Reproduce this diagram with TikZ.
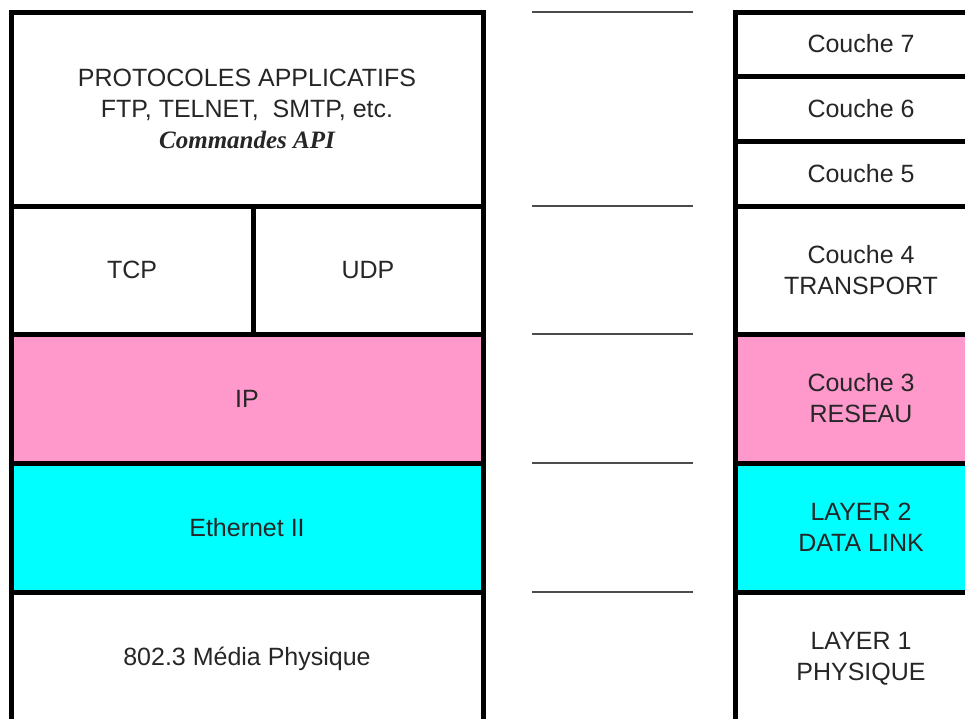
\documentclass[tikz,border=0pt]{standalone}
\usepackage{fontspec}
\setmainfont{Liberation Sans}
\newfontfamily\serifbi{Liberation Serif}
\usetikzlibrary{positioning}
\definecolor{ippink}{RGB}{255,153,204}
\definecolor{ethcyan}{RGB}{0,255,255}

\begin{document}
\begin{tikzpicture}[x=1pt,y=-1pt,
    layer/.style={draw, line width=5pt, inner sep=0pt, outer sep=0pt, align=center,
        text=black!85, font=\fontsize{25}{31}\selectfont},
    sep/.style={draw=black!70, line width=2pt}]
    \useasboundingbox (0,0) rectangle (965,718);
    \clip (0,0) rectangle (965,718);

    % TCP/IP stack
    \node[layer, minimum width=472, minimum height=194] (app) at (247,109)
        {PROTOCOLES APPLICATIFS\\FTP, TELNET,\ \ SMTP, etc.\\{\serifbi\bfseries\itshape Commandes API}};
    \node[layer, anchor=north west, minimum width=242, minimum height=128] (tcp) at (app.south west) {TCP};
    \node[layer, anchor=north west, minimum width=230, minimum height=128] (udp) at (tcp.north east) {UDP};
    \node[layer, anchor=north west, fill=ippink, minimum width=472, minimum height=129] (ip) at (tcp.south west) {IP};
    \node[layer, anchor=north west, fill=ethcyan, minimum width=472, minimum height=129] (eth) at (ip.south west) {Ethernet II};
    \node[layer, anchor=north west, minimum width=472, minimum height=134] (phys) at (eth.south west) {802.3 Média Physique};

    % OSI layers
    \node[layer, anchor=north west, minimum width=252, minimum height=64] (c7) at (735,12) {Couche 7};
    \node[layer, anchor=north west, minimum width=252, minimum height=65] (c6) at (c7.south west) {Couche 6};
    \node[layer, anchor=north west, minimum width=252, minimum height=65] (c5) at (c6.south west) {Couche 5};
    \node[layer, anchor=north west, minimum width=252, minimum height=128] (c4) at (c5.south west) {Couche 4\\TRANSPORT};
    \node[layer, anchor=north west, fill=ippink, minimum width=252, minimum height=129] (c3) at (c4.south west) {Couche 3\\RESEAU};
    \node[layer, anchor=north west, fill=ethcyan, minimum width=252, minimum height=129] (c2) at (c3.south west) {LAYER 2\\DATA LINK};
    \node[layer, anchor=north west, minimum width=252, minimum height=134] (c1) at (c2.south west) {LAYER 1\\PHYSIQUE};

    % Separators between the two stacks
    \foreach \n in {app, tcp, ip, eth, phys} {
        \draw[sep] (\n.north -| app.east) ++(49,0) -- ++(161,0);
    }
\end{tikzpicture}
\end{document}
